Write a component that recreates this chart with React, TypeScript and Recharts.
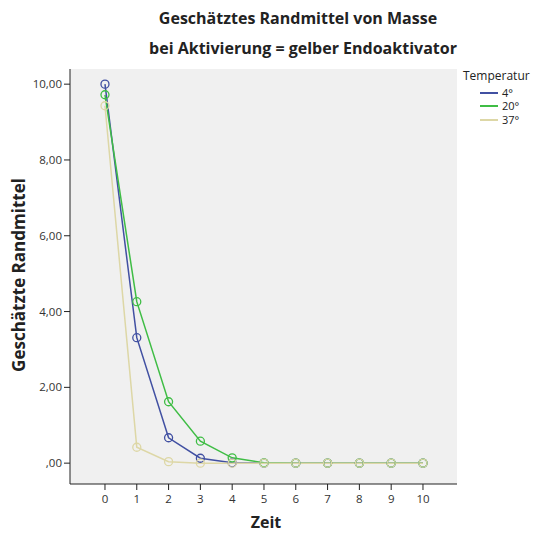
import React from "react";
import { LineChart, Line, XAxis, YAxis, CartesianGrid } from "recharts";

const zeit = [0, 1, 2, 3, 4, 5, 6, 7, 8, 9, 10];
const temp4 = [10.0, 3.31, 0.67, 0.13, 0.01, 0, 0, 0, 0, 0, 0];
const temp20 = [9.72, 4.26, 1.62, 0.58, 0.14, 0.01, 0, 0, 0, 0, 0];
const temp37 = [9.43, 0.42, 0.04, 0.0, 0, 0, 0, 0, 0, 0, 0];
const yTicks = [0, 2, 4, 6, 8, 10];

const SERIES = [
  { key: "t4", name: "4°", color: "#4150a2" },
  { key: "t20", name: "20°", color: "#3fbd45" },
  { key: "t37", name: "37°", color: "#ddd7a6" },
];

const data = zeit.map((z, i) => ({ zeit: z, t4: temp4[i], t20: temp20[i], t37: temp37[i] }));

const FONT = "'Open Sans', 'DejaVu Sans', sans-serif";

const fmtY = (v: number) => (v === 0 ? ",00" : v.toFixed(2).replace(".", ","));

const textBase: React.CSSProperties = {
  position: "absolute",
  whiteSpace: "nowrap",
  fontFamily: FONT,
  color: "#222",
};

function LegendBox() {
  return (
    <div style={{ ...textBase, left: 463, top: 68 }}>
      <div style={{ fontSize: 12, lineHeight: "16px", marginBottom: 2 }}>Temperatur</div>
      {SERIES.map((s) => (
        <div
          key={s.key}
          style={{ display: "flex", alignItems: "center", height: 13.5, lineHeight: "12px", paddingLeft: 17, fontSize: 11 }}
        >
          <span style={{ display: "inline-block", width: 18, height: 2, background: s.color, marginRight: 4 }} />
          <span>{s.name}</span>
        </div>
      ))}
    </div>
  );
}

export default function App() {
  return (
    <div style={{ position: "absolute", left: 0, top: 0, width: 539, height: 535, background: "#fff" }}>
      <div style={{ ...textBase, left: 298, top: 7, transform: "translateX(-50%)", fontWeight: 700, fontSize: 16 }}>
        Geschätztes Randmittel von Masse
      </div>
      <div style={{ ...textBase, left: 303, top: 37, transform: "translateX(-50%)", fontWeight: 700, fontSize: 16 }}>
        bei Aktivierung = gelber Endoaktivator
      </div>
      <div style={{ ...textBase, left: 18, top: 275, transform: "translate(-50%, -50%) rotate(-90deg)", fontWeight: 700, fontSize: 17 }}>
        Geschätzte Randmittel
      </div>
      <div style={{ ...textBase, left: 266, top: 511, transform: "translateX(-50%)", fontWeight: 700, fontSize: 16 }}>
        Zeit
      </div>
      <LegendBox />
      <div style={{ position: "absolute", left: 0, top: 0 }}>
        <LineChart width={539} height={535} data={data} margin={{ top: 69, right: 82, bottom: 0, left: 10 }}>
          <CartesianGrid horizontal={false} vertical={false} fill="#f0f0f0" />
          <XAxis
            dataKey="zeit"
            type="number"
            domain={[-1.1, 11.07]}
            ticks={zeit}
            allowDataOverflow
            height={51}
            tickSize={6}
            tickMargin={5}
            axisLine={{ stroke: "#222" }}
            tickLine={{ stroke: "#222" }}
            tick={{ fontSize: 11.5, fill: "#333", fontFamily: FONT }}
          />
          <XAxis xAxisId="top" orientation="top" type="number" domain={[-1.1, 11.07]} height={0} tick={false} tickLine={false} axisLine={{ stroke: "#222" }} />
          <YAxis
            type="number"
            domain={[-0.55, 10.4]}
            ticks={yTicks}
            allowDataOverflow
            width={60}
            tickSize={6}
            tickMargin={2}
            tickFormatter={fmtY}
            axisLine={{ stroke: "#222" }}
            tickLine={{ stroke: "#222" }}
            tick={{ fontSize: 11.5, fill: "#333", fontFamily: FONT }}
          />
          <YAxis yAxisId="right" orientation="right" type="number" domain={[-0.55, 10.4]} width={0} tick={false} tickLine={false} axisLine={{ stroke: "#222" }} />
          {SERIES.map((s) => (
            <Line
              key={s.key}
              type="linear"
              dataKey={s.key}
              name={s.name}
              stroke={s.color}
              strokeWidth={1.5}
              dot={{ r: 4, stroke: s.color, strokeWidth: 1.3, fill: "none" }}
              activeDot={false}
              isAnimationActive={false}
            />
          ))}
        </LineChart>
      </div>
    </div>
  );
}
